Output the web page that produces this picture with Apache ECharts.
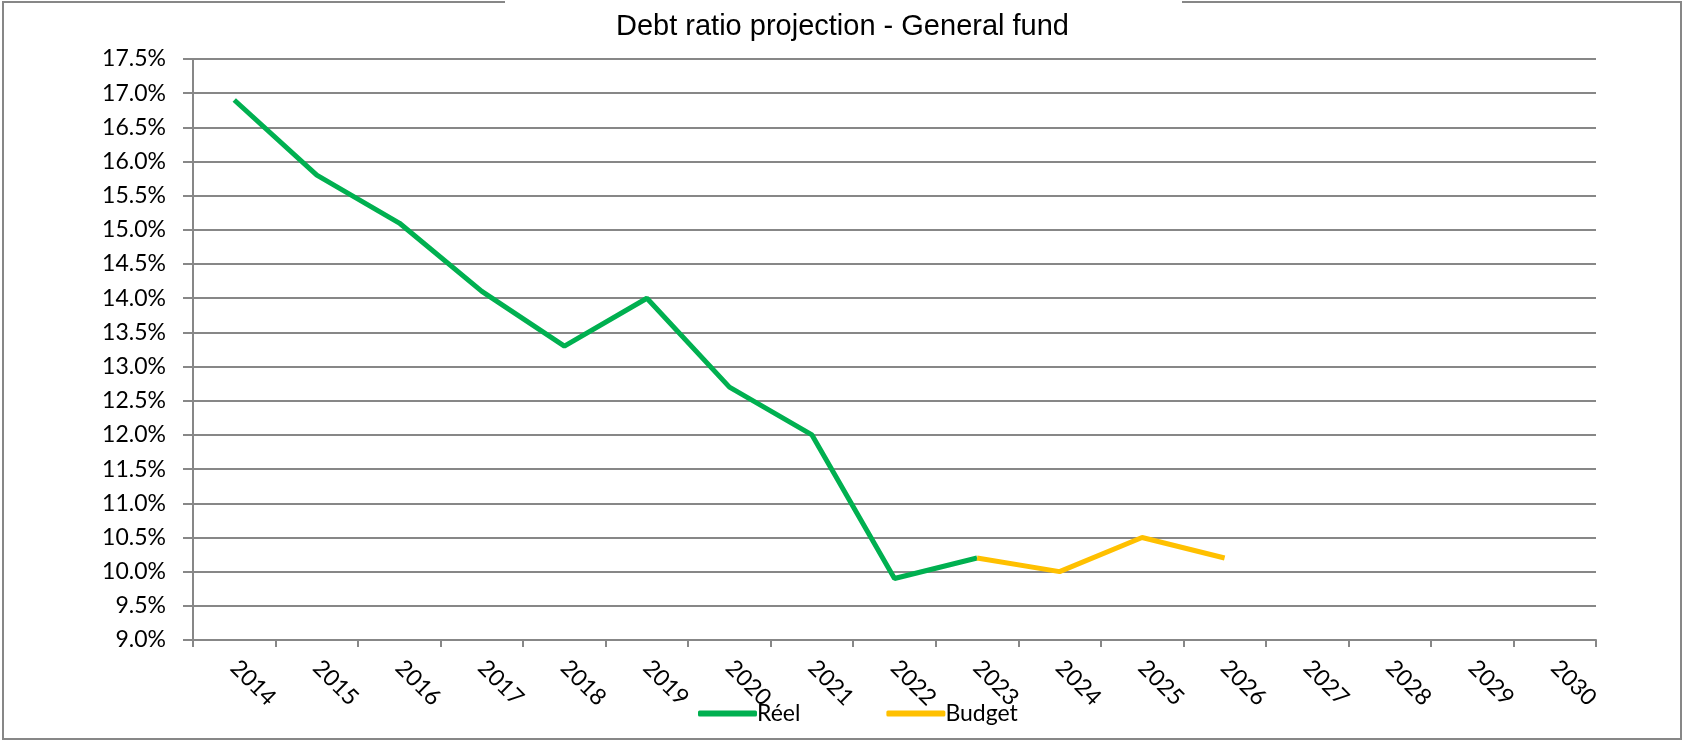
<!DOCTYPE html>
<html>
<head>
<meta charset="utf-8">
<script src="https://cdn.jsdelivr.net/npm/echarts@6/dist/echarts.min.js"></script>
<style>
html,body{margin:0;padding:0;background:#fff;}
#c{width:1685px;height:740px;}
</style>
</head>
<body>
<div id="c"></div>
<script>
const years = ['2014','2015','2016','2017','2018','2019','2020','2021','2022','2023','2024','2025','2026','2027','2028','2029','2030'];
const reel = [16.9, 15.8, 15.1, 14.1, 13.3, 14.0, 12.7, 12.0, 9.9, 10.2, null, null, null, null, null, null, null];
const budget = [null, null, null, null, null, null, null, null, null, 10.2, 10.0, 10.5, 10.2, null, null, null, null];
const titleText = 'Debt ratio projection - General fund';

const chart = echarts.init(document.getElementById('c'), null, {renderer: 'canvas'});
const gray = '#878787';
chart.setOption({
  animation: false,
  backgroundColor: '#fff',
  title: {
    text: titleText,
    left: 'center',
    top: 7,
    textStyle: {fontFamily: 'Liberation Sans', fontSize: 29, fontWeight: 'normal', color: '#000'}
  },
  legend: {
    data: ['Réel', 'Budget'],
    left: 693,
    top: 697,
    icon: 'roundRect',
    itemWidth: 59,
    itemHeight: 6,
    itemGap: 86,
    textStyle: {fontFamily: 'Lato', fontSize: 23, color: '#000', padding: [0, 0, 0, -5]}
  },
  graphic: [{
    type: 'polyline',
    silent: true,
    shape: {points: [[505, 2], [3, 2], [3, 739], [1681, 739], [1681, 2], [1182, 2]]},
    style: {stroke: gray, lineWidth: 2, fill: null}
  }],
  grid: {left: 193, right: 89, top: 59, bottom: 100, containLabel: false},
  xAxis: {
    type: 'category',
    data: years,
    boundaryGap: true,
    axisLine: {show: true, lineStyle: {color: gray, width: 2}},
    axisTick: {show: true, length: 7, interval: 0, lineStyle: {color: gray, width: 2}},
    axisLabel: {interval: 0, rotate: -45, margin: 24, fontFamily: 'Lato', fontSize: 23, color: '#000'},
    splitLine: {show: false}
  },
  yAxis: {
    type: 'value',
    min: 9,
    max: 17.5,
    interval: 0.5,
    axisLine: {show: true, lineStyle: {color: gray, width: 2}},
    axisTick: {show: true, length: 10, lineStyle: {color: gray, width: 2}},
    axisLabel: {margin: 27, fontFamily: 'Lato', fontSize: 23, color: '#000',
      formatter: v => v.toFixed(1) + '%'},
    splitLine: {show: true, lineStyle: {color: gray, width: 2}}
  },
  series: [
    {name: 'Réel', type: 'line', data: reel, showSymbol: false, symbol: 'none',
      lineStyle: {color: '#00B050', width: 5}, itemStyle: {color: '#00B050'}, z: 3},
    {name: 'Budget', type: 'line', data: budget, showSymbol: false, symbol: 'none',
      lineStyle: {color: '#FFC000', width: 5}, itemStyle: {color: '#FFC000'}, z: 4}
  ]
});
</script>
</body>
</html>
